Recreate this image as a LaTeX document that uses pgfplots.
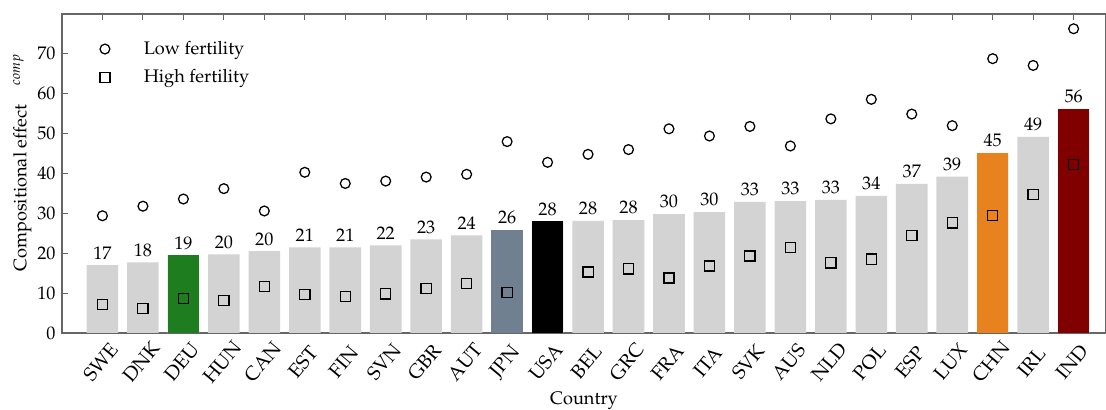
\documentclass[border=0pt]{standalone}
\usepackage[T1]{fontenc}
\usepackage{mathpazo}
\usepackage{pgfplots}
\usepackage{pgfplotstable}
\pgfplotsset{compat=1.18}
\definecolor{barGrey}{RGB}{211,211,211}
\definecolor{deuGreen}{RGB}{30,125,30}
\definecolor{jpnSlate}{RGB}{112,128,144}
\definecolor{chnOrange}{RGB}{232,130,30}
\definecolor{indMaroon}{RGB}{128,0,0}
\pgfplotstableread{
idx lab val lo hi
0 17 17.0 29.4 7.1
1 18 17.7 31.8 6.1
2 19 19.5 33.6 8.7
3 20 19.7 36.2 8.2
4 20 20.5 30.6 11.7
5 21 21.5 40.3 9.6
6 21 21.5 37.5 9.1
7 22 22.0 38.1 9.8
8 23 23.5 39.1 11.1
9 24 24.5 39.8 12.4
10 26 25.8 48.0 10.2
11 28 28.0 42.8 12.0
12 28 28.1 44.8 15.3
13 28 28.3 46.0 16.1
14 30 29.8 51.2 13.8
15 30 30.3 49.4 16.8
16 33 32.9 51.8 19.3
17 33 33.1 46.9 21.4
18 33 33.4 53.7 17.6
19 34 34.4 58.6 18.5
20 37 37.4 54.9 24.4
21 39 39.2 52.0 27.6
22 45 45.2 68.8 29.4
23 49 49.2 67.1 34.8
24 56 56.2 76.3 42.2
}\datatable
\begin{document}
\begin{tikzpicture}
\begin{axis}[
  scale only axis,
  width=574.2pt, height=175.45pt,
  xmin=-1, xmax=24.8,
  ymin=0, ymax=80,
  ytick={0,10,20,30,40,50,60,70},
  xtick={0,...,24},
  xticklabels={SWE,DNK,DEU,HUN,CAN,EST,FIN,SVN,GBR,AUT,JPN,USA,BEL,GRC,FRA,ITA,SVK,AUS,NLD,POL,ESP,LUX,CHN,IRL,IND},
  xticklabel style={font=\fontsize{10.7pt}{12pt}\selectfont, xshift=-1pt, yshift=-16pt, rotate=50, anchor=center, inner sep=0pt},
  tick align=inside,
  ytick pos=left,
  axis line style={black!60, line width=0.6pt},
  every tick/.style={black!60, line width=0.6pt},
  major tick length=3.5pt,
  xlabel={Country},
  xlabel style={at={(axis description cs:0.5,0)}, yshift=-37.5pt, anchor=center},
  ylabel={Compositional effect \hspace{0.8em}$^{comp}$},
  ylabel style={at={(axis description cs:-0.038,0.535)}, anchor=center},
  legend style={at={(axis description cs:0.0307,0.939)}, anchor=north west, draw=none, fill=none, row sep=3pt, font=\normalsize},
  legend cell align=left,
  legend image code/.code={\draw[#1] plot coordinates {(0.3cm,0cm)}; \path[draw=none,fill=none] (0.3cm,0cm) rectangle (0.98cm,0.01cm);},
]
\addplot[ybar, bar width=0.78, bar shift=0pt, fill=barGrey, draw=none,
  nodes near coords, point meta=explicit symbolic,
  nodes near coords style={font=\normalsize, inner sep=3pt}, forget plot]
  table[x=idx, y=val, meta=lab] {\datatable};
\addplot[ybar, bar width=0.78, bar shift=0pt, fill=deuGreen, draw=none, forget plot] coordinates {(2,19.5)};
\addplot[ybar, bar width=0.78, bar shift=0pt, fill=jpnSlate, draw=none, forget plot] coordinates {(10,25.8)};
\addplot[ybar, bar width=0.78, bar shift=0pt, fill=black, draw=none, forget plot] coordinates {(11,28.0)};
\addplot[ybar, bar width=0.78, bar shift=0pt, fill=chnOrange, draw=none, forget plot] coordinates {(22,45.2)};
\addplot[ybar, bar width=0.78, bar shift=0pt, fill=indMaroon, draw=none, forget plot] coordinates {(24,56.2)};
\addplot[only marks, mark=o, mark size=2.7pt, mark options={black, line width=0.7pt, fill=none}]
  table[x=idx, y=lo] {\datatable};
\addlegendentry{Low fertility}
\addplot[only marks, mark=square, mark size=2.8pt, mark options={black, line width=0.7pt, fill=none}]
  table[x=idx, y=hi] {\datatable};
\addlegendentry{High fertility}
\coordinate (bl) at (rel axis cs:0,0);
\coordinate (tr) at (rel axis cs:1,1);
\end{axis}
\pgfresetboundingbox
\path[use as bounding box] ([shift={(-34.1pt,-42.35pt)}]bl) rectangle ([shift={(0pt,7.7pt)}]tr);
\end{tikzpicture}
\end{document}
